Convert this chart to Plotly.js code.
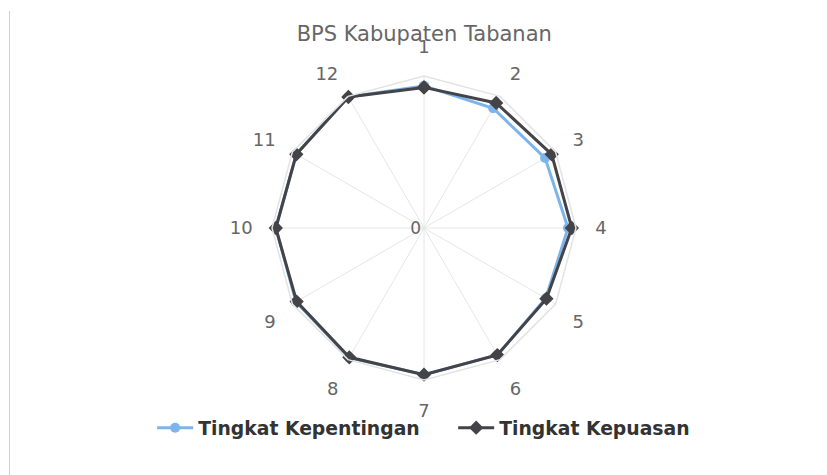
<!DOCTYPE html>
<html>
<head>
<meta charset="utf-8">
<script src="https://cdn.plot.ly/plotly-3.0.1.min.js"></script>
<style>
  html, body { margin: 0; padding: 0; background: #fff; }
  #chart { width: 827px; height: 475px; position: relative; }
  #edge { position: absolute; left: 9px; top: 11px; width: 1px; height: 464px; background: #cfcfcf; z-index: 5; }
</style>
</head>
<body>
<div id="chart"><div id="edge"></div></div>
<script>
const categories = ['1','2','3','4','5','6','7','8','9','10','11','12'];
const kepentingan = [3.74, 3.64, 3.68, 3.79, 3.70, 3.86, 3.86, 3.94, 3.89, 3.90, 3.88, 3.98];
const kepuasan    = [3.70, 3.80, 3.88, 3.89, 3.72, 3.86, 3.86, 3.93, 3.87, 3.90, 3.88, 3.98];
const axisMax = 4;

const closeLoop = a => a.concat([a[0]]);

const traces = [
  {
    type: 'scatterpolar',
    name: 'Tingkat Kepentingan',
    r: closeLoop(kepentingan),
    theta: closeLoop(categories),
    mode: 'lines+markers',
    line: { color: '#7cb5ec', width: 3 },
    marker: { symbol: 'circle', size: 10, color: '#7cb5ec' },
    cliponaxis: false
  },
  {
    type: 'scatterpolar',
    name: 'Tingkat Kepuasan',
    r: closeLoop(kepuasan),
    theta: closeLoop(categories),
    mode: 'lines+markers',
    line: { color: '#434348', width: 3 },
    marker: { symbol: 'diamond', size: 11, color: '#434348' },
    cliponaxis: false
  }
];

const layout = {
  width: 827,
  height: 475,
  paper_bgcolor: '#ffffff',
  plot_bgcolor: '#ffffff',
  margin: { l: 21, r: 0, t: 76, b: 95 },
  font: { family: '"DejaVu Sans", sans-serif', color: '#666666' },
  title: {
    text: 'BPS Kabupaten Tabanan',
    font: { size: 21, color: '#666666', family: '"DejaVu Sans", sans-serif' },
    x: 0.513, xanchor: 'center',
    y: 0.93, yref: 'container', yanchor: 'middle'
  },
  showlegend: true,
  legend: {
    orientation: 'h',
    x: 0.184, xanchor: 'left', xref: 'container',
    y: 0.099, yref: 'container', yanchor: 'middle',
    bgcolor: 'rgba(0,0,0,0)',
    font: { size: 18.8, color: '#333333', weight: 'bold', family: '"DejaVu Sans", sans-serif' },
    itemwidth: 36,
    entrywidth: 250,
    entrywidthmode: 'pixels',
    traceorder: 'normal'
  },
  polar: {
    bgcolor: '#ffffff',
    gridshape: 'linear',
    domain: { x: [0, 1], y: [0, 1] },
    angularaxis: {
      direction: 'clockwise',
      rotation: 90,
      type: 'category',
      categoryarray: categories,
      showgrid: true,
      gridcolor: '#e6e6e6',
      gridwidth: 1,
      showline: true,
      linecolor: '#e3e3e3',
      linewidth: 1.5,
      ticks: 'outside',
      ticklen: 15,
      tickcolor: 'rgba(0,0,0,0)',
      tickfont: { size: 18, color: '#666666' }
    },
    radialaxis: {
      range: [0, axisMax],
      angle: 90,
      tickangle: 90,
      showline: false,
      showgrid: false,
      tickvals: [0],
      ticktext: ['0'],
      ticks: '',
      tickfont: { size: 17, color: '#666666' },
      side: 'counterclockwise'
    }
  }
};

Plotly.newPlot('chart', traces, layout, { displayModeBar: false, staticPlot: true });
</script>
</body>
</html>
